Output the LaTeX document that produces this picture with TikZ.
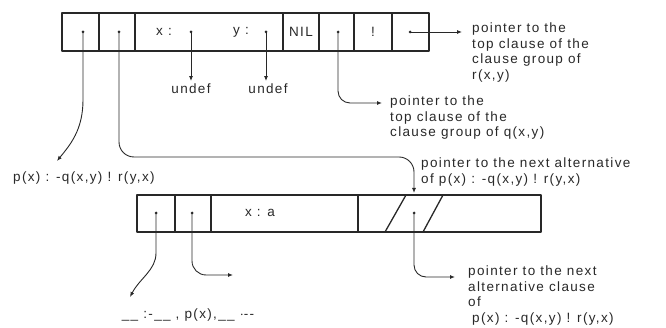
\documentclass[tikz,border=0pt]{standalone}
\usepackage{fontspec}
\usetikzlibrary{arrows.meta}
\newfontfamily\labelfont{Liberation Sans}[LetterSpace=10]
\definecolor{inkgray}{RGB}{40,40,40}
\newcommand{\ptrdot}[2]{
\coordinate (#1) at (#2);
\fill[inkgray] (#1) circle (1.5);
}

\begin{document}
\begin{tikzpicture}[x=1pt, y=-1pt, line join=round,
    box/.style={draw=inkgray, line width=1.3pt},
    ptr/.style={draw=inkgray, line width=0.9pt, -{Latex[length=5pt,width=4pt]}},
    lbl/.style={font=\labelfont\fontsize{13.5}{15.5}\selectfont, text=inkgray, inner sep=0pt, align=left}]
    \useasboundingbox (0,0) rectangle (666,328);
    % goal frame
    \draw[box] (62,13) rectangle (429,51);
    \foreach \x in {99,135,283,319,354,392}
        \draw[box] (\x,13) -- (\x,51);
    \node[lbl] (vx) at (164,32) {x :};
    \node[lbl] (vy) at (241,32) {y :};
    \node[lbl] (nil) at (301,32) {NIL};
    \node[lbl] (cut) at (373,32) {!};
    \ptrdot{a1}{83,32} \ptrdot{a2}{119,32} \ptrdot{ax}{191,32}
    \ptrdot{ay}{266,32} \ptrdot{a5}{338,32} \ptrdot{a7}{410,32}
    \node[lbl, outer sep=3pt] (ux) at (191,89) {undef};
    \node[lbl, outer sep=3pt] (uy) at (268,89) {undef};
    \draw[ptr] (ax) -- (ux.north -| ax);
    \draw[ptr] (ay) -- (uy.north -| ay);
    % clause frame
    \draw[box] (137,195) rectangle (541,232);
    \foreach \x in {175,211,358}
        \draw[box] (\x,195) -- (\x,232);
    \draw[box] (385,232) -- (406,195);
    \draw[box] (423,232) -- (443,195);
    \node[lbl] (va) at (260,213) {x : a};
    \ptrdot{b1}{156,213} \ptrdot{b2}{192,213} \ptrdot{b3}{414,213}
    % labels
    \node[lbl, anchor=north west] (rlbl) at (472,23)
        {pointer to the\\top clause of the\\clause group of\\r(x,y)};
    \node[lbl, anchor=north west] (qlbl) at (390,96)
        {pointer to the\\top clause of the\\clause group of q(x,y)};
    \node[lbl, anchor=west] (plbl) at (13,178) {p(x) : -q(x,y) ! r(y,x)};
    \node[lbl, anchor=north west] (nlbl) at (421,158)
        {pointer to the next alternative\\of p(x) : -q(x,y) ! r(y,x)};
    \node[lbl, anchor=north west] (albl) at (468,266)
        {pointer to the next\\alternative clause\\of\\\hspace{4pt}p(x) : -q(x,y) ! r(y,x)};
    \node[lbl] (body) at (188,315) {\_\_ :-\_\_ , p(x),\_\_ $\cdot$--};
    \coordinate (tr) at (462,32);
    \coordinate (tq) at (382,103);
    \coordinate (tp) at (57,161);
    \coordinate (tn) at (414,193);
    \coordinate (tb1) at (130,297);
    \coordinate (tb2) at (233,275);
    \coordinate (tb3) at (455,277);
    % pointers
    \draw[ptr] (a7) -- (tr);
    \draw[ptr] (a1) -- (83,100) .. controls (83,130) and (70,145) .. (tp);
    \draw[ptr, rounded corners=15pt] (a2) |- (tn |- 0,157) -- (tn);
    \draw[ptr, rounded corners=12pt] (a5) |- (tq);
    \draw[ptr] (b1) -- (156,253) .. controls (156,270) and (140,278) .. (tb1);
    \draw[ptr, rounded corners=14pt] (b2) |- (tb2);
    \draw[ptr, rounded corners=12pt] (b3) |- (tb3);
\end{tikzpicture}
\end{document}
